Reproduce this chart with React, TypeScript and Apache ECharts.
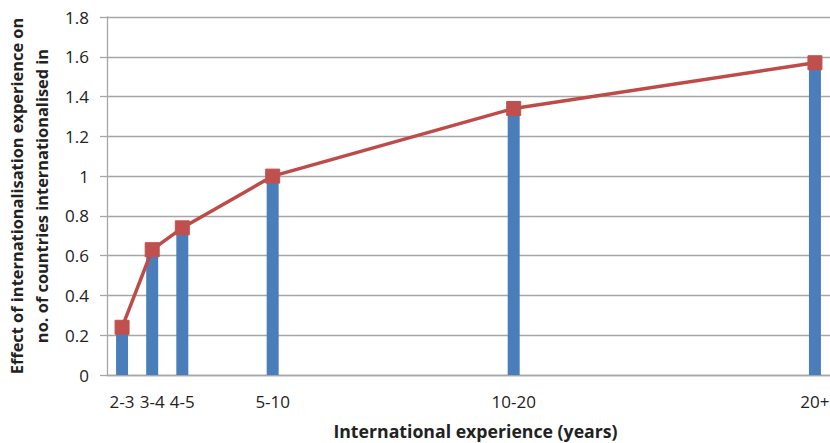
import React, { useEffect, useRef } from "react";
import * as echarts from "echarts";

const categories = ["2-3", "3-4", "4-5", "5-10", "10-20", "20+"];
const xPositions = [2.5, 3.5, 4.5, 7.5, 15.5, 25.5];
const barValues = [0.24, 0.63, 0.74, 1.0, 1.34, 1.57];
const lineValues = [0.24, 0.63, 0.74, 1.0, 1.34, 1.57];
const yTicks = [0, 0.2, 0.4, 0.6, 0.8, 1, 1.2, 1.4, 1.6, 1.8];

const FONT = "'Open Sans', sans-serif";

export default function App() {
  const ref = useRef<HTMLDivElement>(null);
  useEffect(() => {
    if (!ref.current) return;
    const chart = echarts.init(ref.current, null, { renderer: "svg" });
    chart.setOption({
      animation: false,
      backgroundColor: "#ffffff",
      grid: {
        left: 107,
        top: 17,
        right: 0,
        bottom: 68,
        containLabel: false,
        outerBoundsMode: "none",
      },
      xAxis: {
        type: "value",
        min: 2,
        max: 26,
        name: "International experience (years)",
        nameLocation: "middle",
        nameGap: 47,
        nameTextStyle: {
          fontFamily: FONT,
          fontWeight: "bold",
          fontSize: 17.7,
          color: "#222",
          padding: [0, 0, 0, 14],
        },
        axisLine: { show: true, lineStyle: { color: "#A6A6A6", width: 1.3 } },
        axisTick: { show: false },
        splitLine: { show: false },
        axisLabel: {
          customValues: xPositions,
          formatter: (v: number) => {
            const i = xPositions.indexOf(v);
            return i >= 0 ? categories[i] : "";
          },
          fontFamily: FONT,
          fontSize: 17,
          color: "#222",
          margin: 18,
        },
      },
      yAxis: {
        type: "value",
        min: 0,
        max: 1.8,
        interval: 0.2,
        name: "Effect of internationalisation experience on\nno. of countries internationalised in",
        nameLocation: "middle",
        nameGap: 44,
        nameTextStyle: {
          fontFamily: FONT,
          fontWeight: "bold",
          fontSize: 16.4,
          color: "#222",
          lineHeight: 25,
        },
        axisLine: { show: true, lineStyle: { color: "#A6A6A6", width: 1.3 } },
        axisTick: { show: true, length: 7, lineStyle: { color: "#A6A6A6", width: 1.3 } },
        splitLine: { show: true, lineStyle: { color: "#A6A6A6", width: 1.3 } },
        axisLabel: {
          customValues: yTicks,
          formatter: (v: number) => String(Number(v.toFixed(1))),
          fontFamily: FONT,
          fontSize: 17,
          color: "#222",
          margin: 18,
        },
      },
      series: [
        {
          type: "bar",
          data: xPositions.map((x, i) => [x, barValues[i]]),
          barWidth: 12,
          itemStyle: { color: "#4A7EBB" },
          z: 2,
        },
        {
          type: "line",
          data: xPositions.map((x, i) => [x, lineValues[i]]),
          symbol: "rect",
          symbolSize: 14,
          lineStyle: { color: "#BE4B48", width: 3.5 },
          itemStyle: { color: "#C0504D", borderColor: "#C0504D" },
          z: 3,
        },
      ],
    });
    return () => chart.dispose();
  }, []);
  return (
    <div
      ref={ref}
      style={{ position: "absolute", left: 0, top: 0, width: 830, height: 443 }}
    />
  );
}
